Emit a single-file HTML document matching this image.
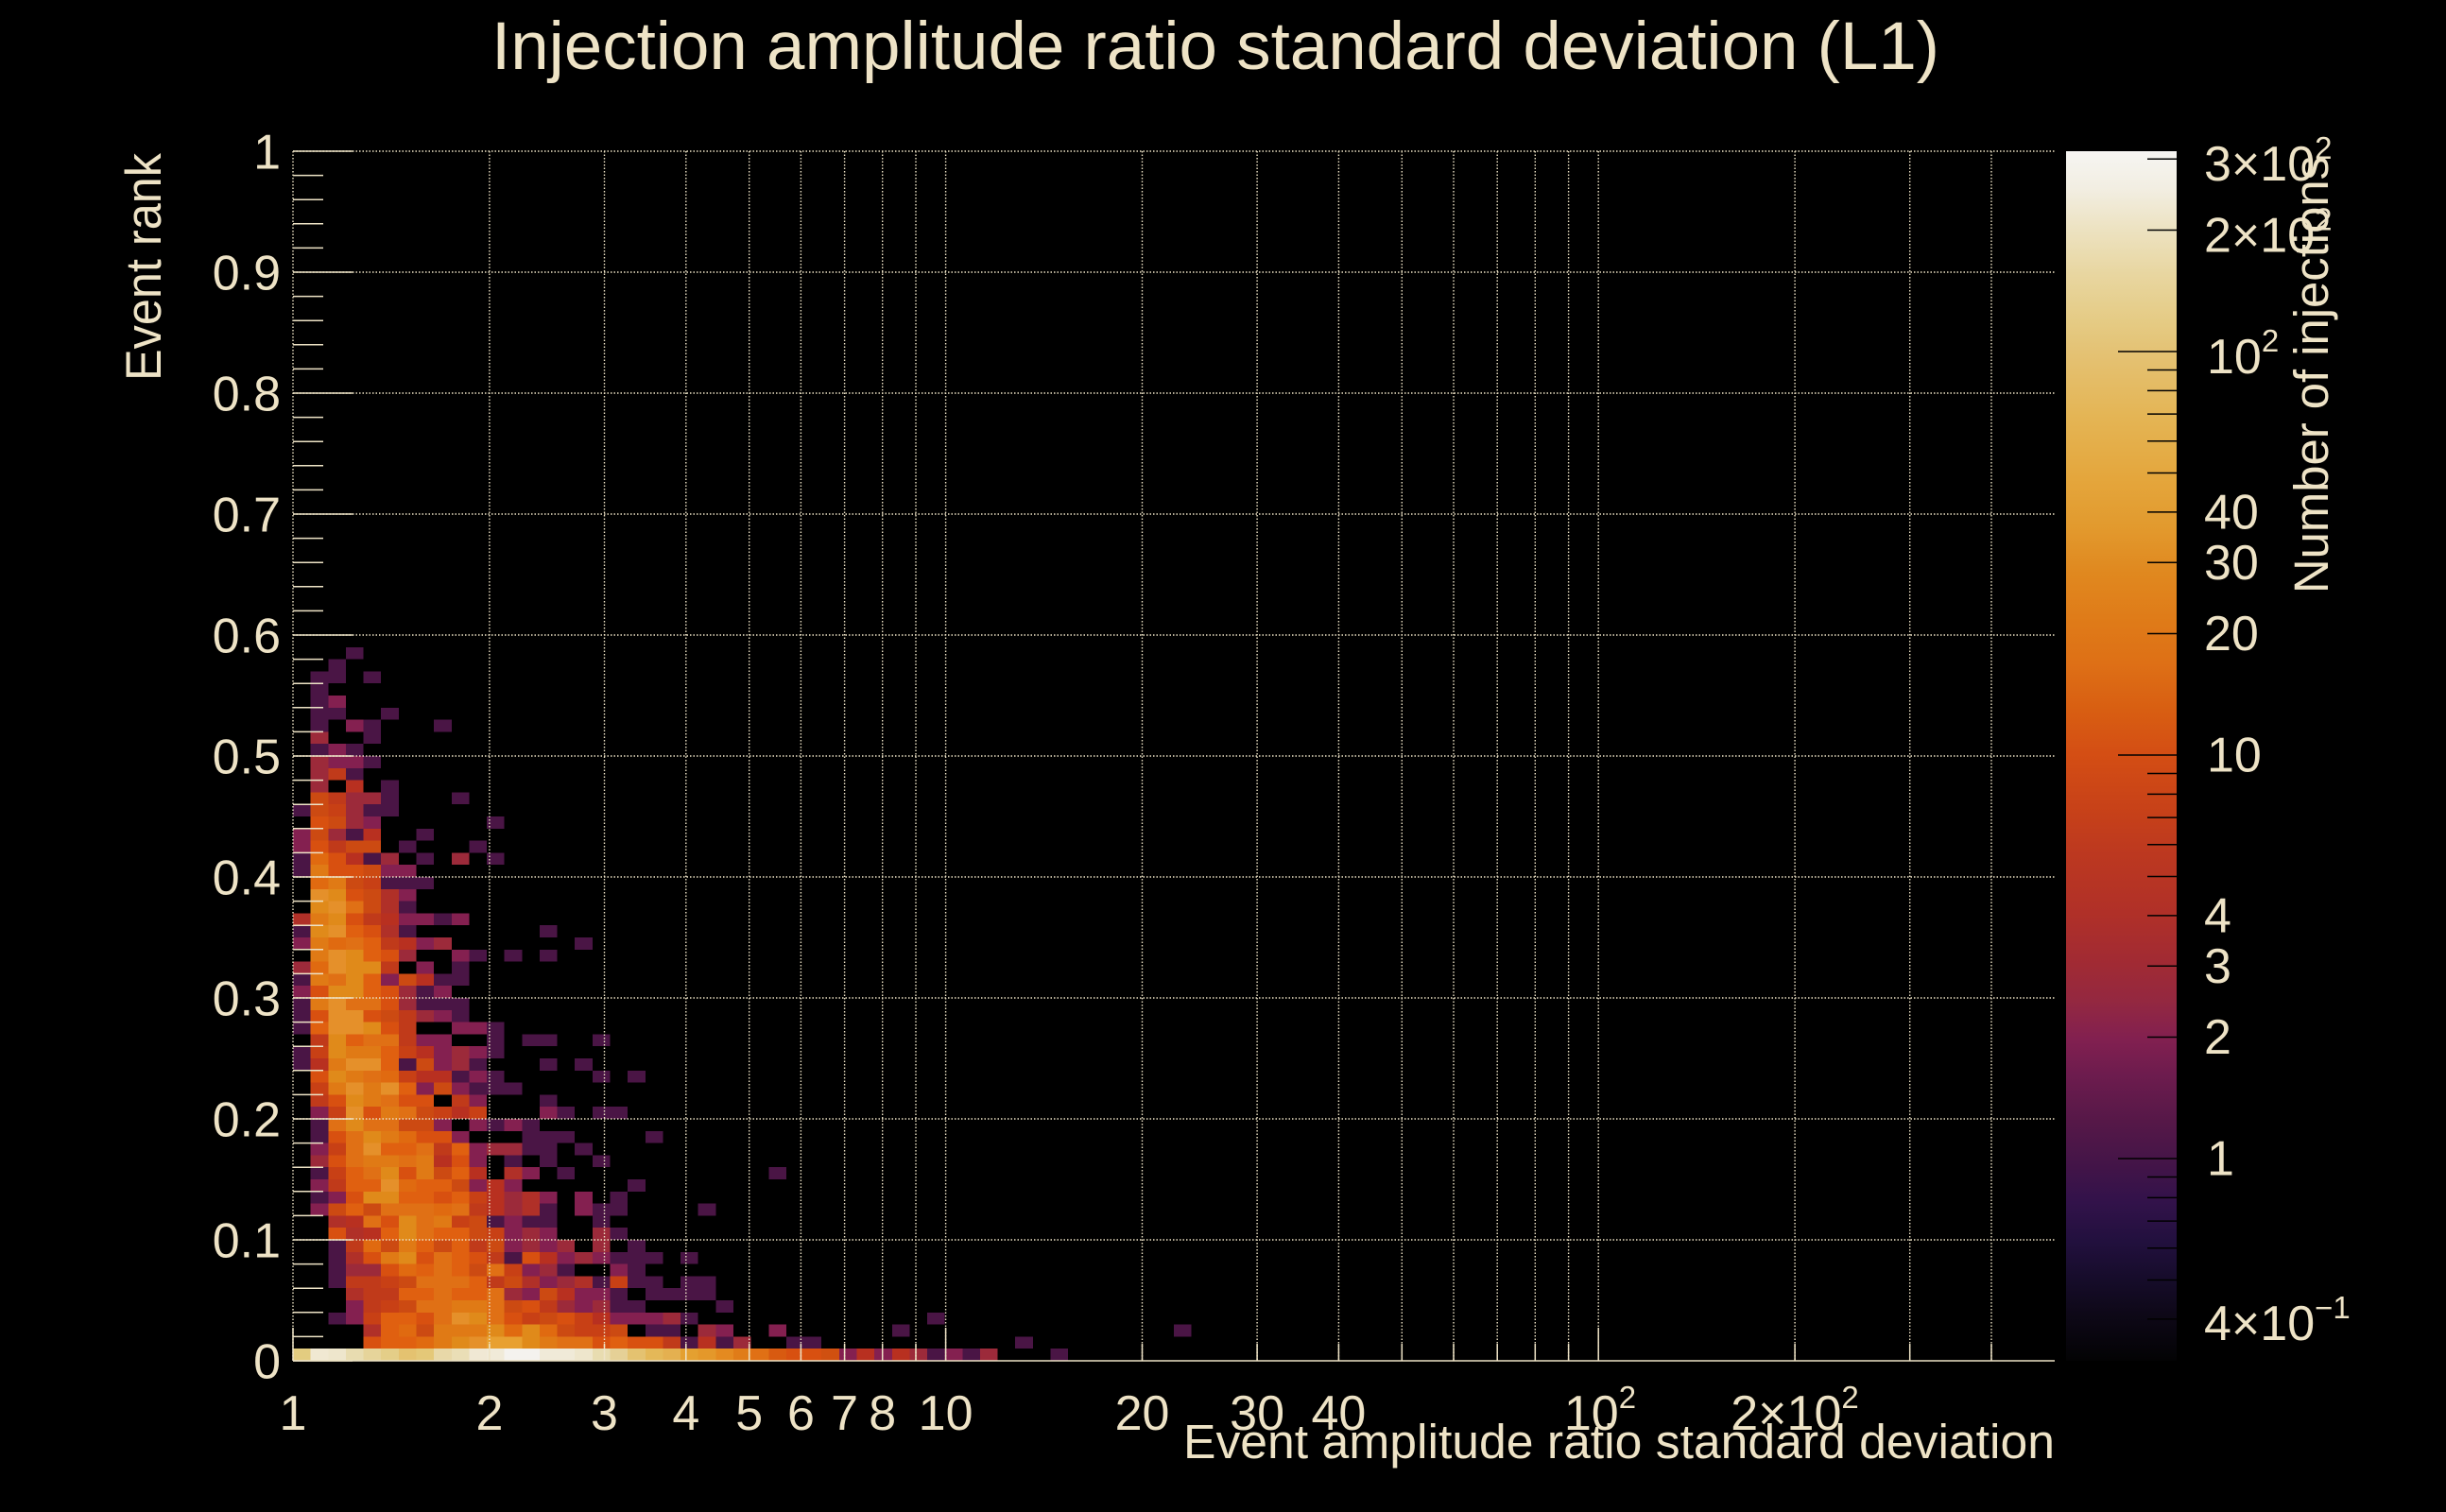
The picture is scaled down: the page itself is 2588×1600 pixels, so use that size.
<!DOCTYPE html>
<html><head><meta charset="utf-8">
<style>
html,body{margin:0;padding:0;background:#000;}
svg{display:block}
text{font-family:"Liberation Sans",Arial,sans-serif;fill:#eee3c6}
.c1{fill:#4a1545}.c2{fill:#842050}.c3{fill:#9c2a3a}.c4{fill:#b03028}.c5{fill:#b83020}.c6{fill:#c03a1a}.c7{fill:#c84015}.c8{fill:#cc4a12}.c9{fill:#d85010}.ca{fill:#e06010}.cb{fill:#e06a10}.cc{fill:#e07015}.cd{fill:#e07a15}.ce{fill:#e08a1a}.cf{fill:#e5902a}.cg{fill:#e8a030}
</style></head><body>
<svg width="2588" height="1600" viewBox="0 0 2588 1600">
<defs>
<rect id="u" width="1" height="1"/>
<linearGradient id="pal" x1="0" y1="0" x2="0" y2="1">
<stop offset="0" stop-color="#f6f5f2"/>
<stop offset="0.031" stop-color="#f2eee2"/>
<stop offset="0.0625" stop-color="#ede3c3"/>
<stop offset="0.102" stop-color="#e8d6a0"/>
<stop offset="0.141" stop-color="#e5cb84"/>
<stop offset="0.166" stop-color="#e4c274"/>
<stop offset="0.219" stop-color="#e4b555"/>
<stop offset="0.271" stop-color="#e4a63c"/>
<stop offset="0.310" stop-color="#e29a2e"/>
<stop offset="0.349" stop-color="#e0881f"/>
<stop offset="0.391" stop-color="#df7a18"/>
<stop offset="0.423" stop-color="#de7016"/>
<stop offset="0.4625" stop-color="#d85e12"/>
<stop offset="0.498" stop-color="#d44e14"/>
<stop offset="0.542" stop-color="#c84218"/>
<stop offset="0.582" stop-color="#bc3820"/>
<stop offset="0.630" stop-color="#b03028"/>
<stop offset="0.673" stop-color="#a02a34"/>
<stop offset="0.702" stop-color="#942840"/>
<stop offset="0.734" stop-color="#822050"/>
<stop offset="0.762" stop-color="#6e1c4e"/>
<stop offset="0.802" stop-color="#561848"/>
<stop offset="0.833" stop-color="#461548"/>
<stop offset="0.869" stop-color="#32124a"/>
<stop offset="0.901" stop-color="#22103e"/>
<stop offset="0.933" stop-color="#160c2a"/>
<stop offset="0.961" stop-color="#0e0818"/>
<stop offset="1" stop-color="#030304"/>
</linearGradient>
</defs>
<rect x="0" y="0" width="2588" height="1600" fill="#000"/>

<!-- heatmap -->
<g transform="translate(310 1440) scale(18.64 -12.8)" shape-rendering="crispEdges">
<g transform="translate(0 58)"><use href="#u" x="3" class="c1"/></g>
<g transform="translate(0 57)"><use href="#u" x="2" class="c1"/></g>
<g transform="translate(0 56)"><use href="#u" x="1" class="c1"/><use href="#u" x="2" class="c1"/><use href="#u" x="4" class="c1"/></g>
<g transform="translate(0 55)"><use href="#u" x="1" class="c1"/></g>
<g transform="translate(0 54)"><use href="#u" x="1" class="c1"/><use href="#u" x="2" class="c2"/></g>
<g transform="translate(0 53)"><use href="#u" x="1" class="c1"/><use href="#u" x="2" class="c1"/><use href="#u" x="5" class="c1"/></g>
<g transform="translate(0 52)"><use href="#u" x="1" class="c1"/><use href="#u" x="3" class="c2"/><use href="#u" x="4" class="c1"/><use href="#u" x="8" class="c1"/></g>
<g transform="translate(0 51)"><use href="#u" x="1" class="c3"/><use href="#u" x="4" class="c1"/></g>
<g transform="translate(0 50)"><use href="#u" x="1" class="c1"/><use href="#u" x="2" class="c2"/><use href="#u" x="3" class="c1"/></g>
<g transform="translate(0 49)"><use href="#u" x="1" class="c3"/><use href="#u" x="2" class="c2"/><use href="#u" x="3" class="c2"/><use href="#u" x="4" class="c1"/></g>
<g transform="translate(0 48)"><use href="#u" x="1" class="c3"/><use href="#u" x="2" class="c6"/><use href="#u" x="3" class="c1"/></g>
<g transform="translate(0 47)"><use href="#u" x="1" class="c3"/><use href="#u" x="3" class="c5"/><use href="#u" x="5" class="c1"/></g>
<g transform="translate(0 46)"><use href="#u" x="1" class="c8"/><use href="#u" x="2" class="c6"/><use href="#u" x="3" class="c3"/><use href="#u" x="4" class="c3"/><use href="#u" x="5" class="c1"/><use href="#u" x="9" class="c1"/></g>
<g transform="translate(0 45)"><use href="#u" x="0" class="c1"/><use href="#u" x="1" class="c8"/><use href="#u" x="2" class="c7"/><use href="#u" x="3" class="c3"/><use href="#u" x="4" class="c1"/><use href="#u" x="5" class="c1"/></g>
<g transform="translate(0 44)"><use href="#u" x="1" class="c9"/><use href="#u" x="2" class="c8"/><use href="#u" x="3" class="c3"/><use href="#u" x="4" class="c2"/><use href="#u" x="11" class="c1"/></g>
<g transform="translate(0 43)"><use href="#u" x="0" class="c2"/><use href="#u" x="1" class="c8"/><use href="#u" x="2" class="c3"/><use href="#u" x="3" class="c1"/><use href="#u" x="4" class="c5"/><use href="#u" x="7" class="c1"/></g>
<g transform="translate(0 42)"><use href="#u" x="0" class="c2"/><use href="#u" x="1" class="c9"/><use href="#u" x="2" class="c6"/><use href="#u" x="3" class="c8"/><use href="#u" x="4" class="c8"/><use href="#u" x="6" class="c1"/><use href="#u" x="10" class="c1"/></g>
<g transform="translate(0 41)"><use href="#u" x="0" class="c1"/><use href="#u" x="1" class="cb"/><use href="#u" x="2" class="c9"/><use href="#u" x="3" class="c5"/><use href="#u" x="4" class="c1"/><use href="#u" x="5" class="c3"/><use href="#u" x="7" class="c1"/><use href="#u" x="9" class="c3"/><use href="#u" x="11" class="c1"/></g>
<g transform="translate(0 40)"><use href="#u" x="0" class="c1"/><use href="#u" x="1" class="cd"/><use href="#u" x="2" class="c9"/><use href="#u" x="3" class="c9"/><use href="#u" x="4" class="c8"/><use href="#u" x="5" class="c2"/><use href="#u" x="6" class="c2"/></g>
<g transform="translate(0 39)"><use href="#u" x="1" class="cb"/><use href="#u" x="2" class="cd"/><use href="#u" x="3" class="c8"/><use href="#u" x="4" class="c7"/><use href="#u" x="5" class="c1"/><use href="#u" x="6" class="c1"/><use href="#u" x="7" class="c1"/></g>
<g transform="translate(0 38)"><use href="#u" x="1" class="cf"/><use href="#u" x="2" class="ce"/><use href="#u" x="3" class="c9"/><use href="#u" x="4" class="c8"/><use href="#u" x="5" class="c4"/><use href="#u" x="6" class="c2"/></g>
<g transform="translate(0 37)"><use href="#u" x="1" class="ce"/><use href="#u" x="2" class="cf"/><use href="#u" x="3" class="cc"/><use href="#u" x="4" class="c8"/><use href="#u" x="5" class="c4"/><use href="#u" x="6" class="c1"/></g>
<g transform="translate(0 36)"><use href="#u" x="0" class="c4"/><use href="#u" x="1" class="cd"/><use href="#u" x="2" class="ce"/><use href="#u" x="3" class="c9"/><use href="#u" x="4" class="c6"/><use href="#u" x="5" class="c5"/><use href="#u" x="6" class="c2"/><use href="#u" x="7" class="c2"/><use href="#u" x="8" class="c1"/><use href="#u" x="9" class="c2"/></g>
<g transform="translate(0 35)"><use href="#u" x="0" class="c1"/><use href="#u" x="1" class="ce"/><use href="#u" x="2" class="cf"/><use href="#u" x="3" class="ca"/><use href="#u" x="4" class="c9"/><use href="#u" x="5" class="c4"/><use href="#u" x="6" class="c1"/><use href="#u" x="14" class="c1"/></g>
<g transform="translate(0 34)"><use href="#u" x="0" class="c2"/><use href="#u" x="1" class="cd"/><use href="#u" x="2" class="cb"/><use href="#u" x="3" class="cc"/><use href="#u" x="4" class="ca"/><use href="#u" x="5" class="c6"/><use href="#u" x="6" class="c5"/><use href="#u" x="7" class="c2"/><use href="#u" x="8" class="c3"/><use href="#u" x="16" class="c1"/></g>
<g transform="translate(0 33)"><use href="#u" x="1" class="cd"/><use href="#u" x="2" class="cf"/><use href="#u" x="3" class="ce"/><use href="#u" x="4" class="ca"/><use href="#u" x="5" class="c9"/><use href="#u" x="6" class="c3"/><use href="#u" x="9" class="c2"/><use href="#u" x="10" class="c1"/><use href="#u" x="12" class="c1"/><use href="#u" x="14" class="c1"/></g>
<g transform="translate(0 32)"><use href="#u" x="0" class="c3"/><use href="#u" x="1" class="cb"/><use href="#u" x="2" class="cf"/><use href="#u" x="3" class="ce"/><use href="#u" x="4" class="ce"/><use href="#u" x="5" class="c6"/><use href="#u" x="7" class="c2"/><use href="#u" x="9" class="c1"/></g>
<g transform="translate(0 31)"><use href="#u" x="0" class="c1"/><use href="#u" x="1" class="cd"/><use href="#u" x="2" class="cc"/><use href="#u" x="3" class="ce"/><use href="#u" x="4" class="ca"/><use href="#u" x="5" class="c2"/><use href="#u" x="6" class="c8"/><use href="#u" x="7" class="c5"/><use href="#u" x="8" class="c1"/><use href="#u" x="9" class="c1"/></g>
<g transform="translate(0 30)"><use href="#u" x="0" class="c2"/><use href="#u" x="1" class="c9"/><use href="#u" x="2" class="ce"/><use href="#u" x="3" class="ce"/><use href="#u" x="4" class="ca"/><use href="#u" x="5" class="c9"/><use href="#u" x="6" class="c3"/><use href="#u" x="7" class="c1"/><use href="#u" x="8" class="c2"/></g>
<g transform="translate(0 29)"><use href="#u" x="0" class="c1"/><use href="#u" x="1" class="cd"/><use href="#u" x="2" class="cf"/><use href="#u" x="3" class="cc"/><use href="#u" x="4" class="cc"/><use href="#u" x="5" class="c9"/><use href="#u" x="6" class="c3"/><use href="#u" x="7" class="c1"/><use href="#u" x="8" class="c1"/><use href="#u" x="9" class="c1"/></g>
<g transform="translate(0 28)"><use href="#u" x="0" class="c1"/><use href="#u" x="1" class="c9"/><use href="#u" x="2" class="cf"/><use href="#u" x="3" class="cf"/><use href="#u" x="4" class="c9"/><use href="#u" x="5" class="c8"/><use href="#u" x="6" class="c6"/><use href="#u" x="7" class="c3"/><use href="#u" x="8" class="c2"/><use href="#u" x="9" class="c1"/></g>
<g transform="translate(0 27)"><use href="#u" x="0" class="c1"/><use href="#u" x="1" class="ca"/><use href="#u" x="2" class="cf"/><use href="#u" x="3" class="cf"/><use href="#u" x="4" class="ce"/><use href="#u" x="5" class="c9"/><use href="#u" x="6" class="c6"/><use href="#u" x="9" class="c2"/><use href="#u" x="10" class="c2"/><use href="#u" x="11" class="c1"/></g>
<g transform="translate(0 26)"><use href="#u" x="1" class="c6"/><use href="#u" x="2" class="ce"/><use href="#u" x="3" class="ca"/><use href="#u" x="4" class="cc"/><use href="#u" x="5" class="cc"/><use href="#u" x="6" class="c6"/><use href="#u" x="7" class="c2"/><use href="#u" x="8" class="c2"/><use href="#u" x="11" class="c1"/><use href="#u" x="13" class="c1"/><use href="#u" x="14" class="c1"/><use href="#u" x="17" class="c1"/></g>
<g transform="translate(0 25)"><use href="#u" x="0" class="c1"/><use href="#u" x="1" class="c7"/><use href="#u" x="2" class="ce"/><use href="#u" x="3" class="cd"/><use href="#u" x="4" class="cd"/><use href="#u" x="5" class="ca"/><use href="#u" x="6" class="c7"/><use href="#u" x="7" class="c5"/><use href="#u" x="8" class="c2"/><use href="#u" x="9" class="c3"/><use href="#u" x="10" class="c2"/><use href="#u" x="11" class="c1"/></g>
<g transform="translate(0 24)"><use href="#u" x="0" class="c1"/><use href="#u" x="1" class="c5"/><use href="#u" x="2" class="cd"/><use href="#u" x="3" class="cf"/><use href="#u" x="4" class="cf"/><use href="#u" x="5" class="ca"/><use href="#u" x="6" class="c1"/><use href="#u" x="7" class="c8"/><use href="#u" x="8" class="c2"/><use href="#u" x="9" class="c3"/><use href="#u" x="10" class="c1"/><use href="#u" x="14" class="c1"/><use href="#u" x="16" class="c1"/></g>
<g transform="translate(0 23)"><use href="#u" x="1" class="c9"/><use href="#u" x="2" class="ce"/><use href="#u" x="3" class="cd"/><use href="#u" x="4" class="cc"/><use href="#u" x="5" class="cb"/><use href="#u" x="6" class="c7"/><use href="#u" x="7" class="c5"/><use href="#u" x="8" class="c5"/><use href="#u" x="9" class="c1"/><use href="#u" x="10" class="c2"/><use href="#u" x="11" class="c1"/><use href="#u" x="17" class="c1"/><use href="#u" x="19" class="c1"/></g>
<g transform="translate(0 22)"><use href="#u" x="1" class="c7"/><use href="#u" x="2" class="cd"/><use href="#u" x="3" class="cf"/><use href="#u" x="4" class="cd"/><use href="#u" x="5" class="cf"/><use href="#u" x="6" class="ca"/><use href="#u" x="7" class="c2"/><use href="#u" x="8" class="c8"/><use href="#u" x="9" class="c2"/><use href="#u" x="10" class="c1"/><use href="#u" x="11" class="c1"/><use href="#u" x="12" class="c1"/></g>
<g transform="translate(0 21)"><use href="#u" x="1" class="c6"/><use href="#u" x="2" class="c9"/><use href="#u" x="3" class="ce"/><use href="#u" x="4" class="cd"/><use href="#u" x="5" class="cc"/><use href="#u" x="6" class="c9"/><use href="#u" x="7" class="c9"/><use href="#u" x="9" class="c6"/><use href="#u" x="10" class="c2"/><use href="#u" x="14" class="c1"/></g>
<g transform="translate(0 20)"><use href="#u" x="1" class="c2"/><use href="#u" x="2" class="c7"/><use href="#u" x="3" class="cf"/><use href="#u" x="4" class="c9"/><use href="#u" x="5" class="cd"/><use href="#u" x="6" class="cc"/><use href="#u" x="7" class="c8"/><use href="#u" x="8" class="c7"/><use href="#u" x="9" class="c5"/><use href="#u" x="10" class="c7"/><use href="#u" x="14" class="c2"/><use href="#u" x="15" class="c1"/><use href="#u" x="17" class="c1"/><use href="#u" x="18" class="c1"/></g>
<g transform="translate(0 19)"><use href="#u" x="1" class="c1"/><use href="#u" x="2" class="cc"/><use href="#u" x="3" class="ce"/><use href="#u" x="4" class="cc"/><use href="#u" x="5" class="cc"/><use href="#u" x="6" class="c8"/><use href="#u" x="7" class="c8"/><use href="#u" x="8" class="c2"/><use href="#u" x="10" class="c2"/><use href="#u" x="11" class="c1"/><use href="#u" x="12" class="c2"/><use href="#u" x="13" class="c1"/></g>
<g transform="translate(0 18)"><use href="#u" x="1" class="c1"/><use href="#u" x="2" class="c9"/><use href="#u" x="3" class="cc"/><use href="#u" x="4" class="ce"/><use href="#u" x="5" class="cd"/><use href="#u" x="6" class="cb"/><use href="#u" x="7" class="c9"/><use href="#u" x="8" class="c9"/><use href="#u" x="9" class="c2"/><use href="#u" x="13" class="c1"/><use href="#u" x="14" class="c1"/><use href="#u" x="15" class="c1"/><use href="#u" x="20" class="c1"/></g>
<g transform="translate(0 17)"><use href="#u" x="1" class="c2"/><use href="#u" x="2" class="c7"/><use href="#u" x="3" class="cc"/><use href="#u" x="4" class="cf"/><use href="#u" x="5" class="ca"/><use href="#u" x="6" class="ca"/><use href="#u" x="7" class="cc"/><use href="#u" x="8" class="c6"/><use href="#u" x="9" class="ca"/><use href="#u" x="10" class="c2"/><use href="#u" x="11" class="c3"/><use href="#u" x="12" class="c3"/><use href="#u" x="13" class="c1"/><use href="#u" x="14" class="c1"/><use href="#u" x="16" class="c1"/></g>
<g transform="translate(0 16)"><use href="#u" x="1" class="c3"/><use href="#u" x="2" class="c9"/><use href="#u" x="3" class="cc"/><use href="#u" x="4" class="cd"/><use href="#u" x="5" class="cd"/><use href="#u" x="6" class="cc"/><use href="#u" x="7" class="cd"/><use href="#u" x="8" class="c5"/><use href="#u" x="9" class="c9"/><use href="#u" x="10" class="c2"/><use href="#u" x="12" class="c1"/><use href="#u" x="14" class="c1"/><use href="#u" x="17" class="c1"/></g>
<g transform="translate(0 15)"><use href="#u" x="1" class="c1"/><use href="#u" x="2" class="c7"/><use href="#u" x="3" class="ca"/><use href="#u" x="4" class="cc"/><use href="#u" x="5" class="ce"/><use href="#u" x="6" class="c9"/><use href="#u" x="7" class="cd"/><use href="#u" x="8" class="c8"/><use href="#u" x="9" class="ca"/><use href="#u" x="10" class="c5"/><use href="#u" x="12" class="c4"/><use href="#u" x="13" class="c2"/><use href="#u" x="15" class="c1"/><use href="#u" x="27" class="c1"/></g>
<g transform="translate(0 14)"><use href="#u" x="1" class="c2"/><use href="#u" x="2" class="c6"/><use href="#u" x="3" class="ca"/><use href="#u" x="4" class="ca"/><use href="#u" x="5" class="cf"/><use href="#u" x="6" class="cb"/><use href="#u" x="7" class="ca"/><use href="#u" x="8" class="ca"/><use href="#u" x="9" class="c8"/><use href="#u" x="10" class="c2"/><use href="#u" x="11" class="c5"/><use href="#u" x="12" class="c2"/><use href="#u" x="19" class="c1"/></g>
<g transform="translate(0 13)"><use href="#u" x="1" class="c1"/><use href="#u" x="2" class="c2"/><use href="#u" x="3" class="c9"/><use href="#u" x="4" class="ce"/><use href="#u" x="5" class="ce"/><use href="#u" x="6" class="ca"/><use href="#u" x="7" class="ca"/><use href="#u" x="8" class="c9"/><use href="#u" x="9" class="ca"/><use href="#u" x="10" class="c7"/><use href="#u" x="11" class="c5"/><use href="#u" x="12" class="c3"/><use href="#u" x="13" class="c4"/><use href="#u" x="14" class="c2"/><use href="#u" x="16" class="c2"/><use href="#u" x="18" class="c1"/></g>
<g transform="translate(0 12)"><use href="#u" x="1" class="c2"/><use href="#u" x="2" class="c8"/><use href="#u" x="3" class="ca"/><use href="#u" x="4" class="c8"/><use href="#u" x="5" class="cc"/><use href="#u" x="6" class="cc"/><use href="#u" x="7" class="cc"/><use href="#u" x="8" class="cb"/><use href="#u" x="9" class="cc"/><use href="#u" x="10" class="c6"/><use href="#u" x="11" class="c5"/><use href="#u" x="12" class="c3"/><use href="#u" x="13" class="c4"/><use href="#u" x="14" class="c1"/><use href="#u" x="16" class="c2"/><use href="#u" x="17" class="c1"/><use href="#u" x="18" class="c1"/><use href="#u" x="23" class="c1"/></g>
<g transform="translate(0 11)"><use href="#u" x="2" class="c4"/><use href="#u" x="3" class="c5"/><use href="#u" x="4" class="cc"/><use href="#u" x="5" class="c9"/><use href="#u" x="6" class="ce"/><use href="#u" x="7" class="cc"/><use href="#u" x="8" class="cd"/><use href="#u" x="9" class="c7"/><use href="#u" x="10" class="c8"/><use href="#u" x="11" class="c1"/><use href="#u" x="12" class="c2"/><use href="#u" x="13" class="c1"/><use href="#u" x="14" class="c1"/><use href="#u" x="17" class="c1"/></g>
<g transform="translate(0 10)"><use href="#u" x="2" class="c9"/><use href="#u" x="3" class="c4"/><use href="#u" x="4" class="c5"/><use href="#u" x="5" class="ca"/><use href="#u" x="6" class="ce"/><use href="#u" x="7" class="cc"/><use href="#u" x="8" class="ca"/><use href="#u" x="9" class="ca"/><use href="#u" x="10" class="c8"/><use href="#u" x="11" class="c7"/><use href="#u" x="12" class="c2"/><use href="#u" x="13" class="c3"/><use href="#u" x="14" class="c2"/><use href="#u" x="17" class="c3"/><use href="#u" x="18" class="c1"/></g>
<g transform="translate(0 9)"><use href="#u" x="2" class="c1"/><use href="#u" x="3" class="c6"/><use href="#u" x="4" class="cb"/><use href="#u" x="5" class="c8"/><use href="#u" x="6" class="cd"/><use href="#u" x="7" class="ca"/><use href="#u" x="8" class="c8"/><use href="#u" x="9" class="ca"/><use href="#u" x="10" class="c6"/><use href="#u" x="11" class="c8"/><use href="#u" x="12" class="c2"/><use href="#u" x="13" class="c3"/><use href="#u" x="14" class="c2"/><use href="#u" x="15" class="c3"/><use href="#u" x="17" class="c3"/><use href="#u" x="19" class="c1"/></g>
<g transform="translate(0 8)"><use href="#u" x="2" class="c1"/><use href="#u" x="3" class="c4"/><use href="#u" x="4" class="c9"/><use href="#u" x="5" class="cd"/><use href="#u" x="6" class="ce"/><use href="#u" x="7" class="c9"/><use href="#u" x="8" class="cc"/><use href="#u" x="9" class="ca"/><use href="#u" x="10" class="c9"/><use href="#u" x="11" class="c6"/><use href="#u" x="12" class="c1"/><use href="#u" x="13" class="c9"/><use href="#u" x="14" class="c5"/><use href="#u" x="15" class="c2"/><use href="#u" x="16" class="c3"/><use href="#u" x="17" class="c2"/><use href="#u" x="18" class="c1"/><use href="#u" x="19" class="c1"/><use href="#u" x="20" class="c1"/><use href="#u" x="22" class="c1"/></g>
<g transform="translate(0 7)"><use href="#u" x="2" class="c1"/><use href="#u" x="3" class="c3"/><use href="#u" x="4" class="c3"/><use href="#u" x="5" class="c9"/><use href="#u" x="6" class="cb"/><use href="#u" x="7" class="ca"/><use href="#u" x="8" class="cc"/><use href="#u" x="9" class="ca"/><use href="#u" x="10" class="c8"/><use href="#u" x="11" class="cc"/><use href="#u" x="12" class="c7"/><use href="#u" x="13" class="c2"/><use href="#u" x="14" class="c3"/><use href="#u" x="15" class="c1"/><use href="#u" x="18" class="c2"/><use href="#u" x="19" class="c1"/></g>
<g transform="translate(0 6)"><use href="#u" x="2" class="c1"/><use href="#u" x="3" class="c6"/><use href="#u" x="4" class="c6"/><use href="#u" x="5" class="c7"/><use href="#u" x="6" class="c8"/><use href="#u" x="7" class="cc"/><use href="#u" x="8" class="cc"/><use href="#u" x="9" class="cc"/><use href="#u" x="10" class="ca"/><use href="#u" x="11" class="c6"/><use href="#u" x="12" class="c8"/><use href="#u" x="13" class="c4"/><use href="#u" x="14" class="c2"/><use href="#u" x="15" class="c3"/><use href="#u" x="16" class="c4"/><use href="#u" x="17" class="c1"/><use href="#u" x="18" class="c7"/><use href="#u" x="19" class="c1"/><use href="#u" x="20" class="c1"/><use href="#u" x="22" class="c1"/><use href="#u" x="23" class="c1"/></g>
<g transform="translate(0 5)"><use href="#u" x="3" class="c4"/><use href="#u" x="4" class="c6"/><use href="#u" x="5" class="c6"/><use href="#u" x="6" class="ca"/><use href="#u" x="7" class="ca"/><use href="#u" x="8" class="cc"/><use href="#u" x="9" class="ca"/><use href="#u" x="10" class="ca"/><use href="#u" x="11" class="cc"/><use href="#u" x="12" class="c3"/><use href="#u" x="13" class="c2"/><use href="#u" x="14" class="c8"/><use href="#u" x="15" class="c5"/><use href="#u" x="16" class="c2"/><use href="#u" x="17" class="c2"/><use href="#u" x="18" class="c1"/><use href="#u" x="20" class="c1"/><use href="#u" x="21" class="c1"/><use href="#u" x="22" class="c1"/><use href="#u" x="23" class="c1"/></g>
<g transform="translate(0 4)"><use href="#u" x="3" class="c2"/><use href="#u" x="4" class="c6"/><use href="#u" x="5" class="c7"/><use href="#u" x="6" class="c8"/><use href="#u" x="7" class="cc"/><use href="#u" x="8" class="cc"/><use href="#u" x="9" class="cd"/><use href="#u" x="10" class="cd"/><use href="#u" x="11" class="cc"/><use href="#u" x="12" class="c8"/><use href="#u" x="13" class="c9"/><use href="#u" x="14" class="c6"/><use href="#u" x="15" class="c3"/><use href="#u" x="16" class="c2"/><use href="#u" x="17" class="c3"/><use href="#u" x="18" class="c1"/><use href="#u" x="19" class="c1"/><use href="#u" x="24" class="c1"/></g>
<g transform="translate(0 3)"><use href="#u" x="2" class="c1"/><use href="#u" x="3" class="c2"/><use href="#u" x="4" class="c7"/><use href="#u" x="5" class="ca"/><use href="#u" x="6" class="ca"/><use href="#u" x="7" class="c9"/><use href="#u" x="8" class="cc"/><use href="#u" x="9" class="cf"/><use href="#u" x="10" class="ce"/><use href="#u" x="11" class="cc"/><use href="#u" x="12" class="c9"/><use href="#u" x="13" class="c7"/><use href="#u" x="14" class="c8"/><use href="#u" x="15" class="c9"/><use href="#u" x="16" class="c7"/><use href="#u" x="17" class="c5"/><use href="#u" x="18" class="c2"/><use href="#u" x="19" class="c2"/><use href="#u" x="20" class="c2"/><use href="#u" x="21" class="c3"/><use href="#u" x="22" class="c1"/><use href="#u" x="36" class="c1"/></g>
<g transform="translate(0 2)"><use href="#u" x="4" class="c4"/><use href="#u" x="5" class="ca"/><use href="#u" x="6" class="cb"/><use href="#u" x="7" class="c8"/><use href="#u" x="8" class="cd"/><use href="#u" x="9" class="cd"/><use href="#u" x="10" class="cd"/><use href="#u" x="11" class="ce"/><use href="#u" x="12" class="cb"/><use href="#u" x="13" class="ce"/><use href="#u" x="14" class="cb"/><use href="#u" x="15" class="c8"/><use href="#u" x="16" class="c7"/><use href="#u" x="17" class="c7"/><use href="#u" x="18" class="c8"/><use href="#u" x="20" class="c1"/><use href="#u" x="21" class="c1"/><use href="#u" x="23" class="c3"/><use href="#u" x="24" class="c2"/><use href="#u" x="27" class="c2"/><use href="#u" x="34" class="c1"/><use href="#u" x="50" class="c1"/></g>
<g transform="translate(0 1)"><use href="#u" x="4" class="c9"/><use href="#u" x="5" class="ca"/><use href="#u" x="6" class="ca"/><use href="#u" x="7" class="cb"/><use href="#u" x="8" class="cd"/><use href="#u" x="9" class="ce"/><use href="#u" x="10" class="cf"/><use href="#u" x="11" class="cg"/><use href="#u" x="12" class="cg"/><use href="#u" x="13" class="ce"/><use href="#u" x="14" class="cd"/><use href="#u" x="15" class="cc"/><use href="#u" x="16" class="cc"/><use href="#u" x="17" class="c9"/><use href="#u" x="18" class="ca"/><use href="#u" x="19" class="c9"/><use href="#u" x="20" class="c9"/><use href="#u" x="21" class="c6"/><use href="#u" x="22" class="c1"/><use href="#u" x="23" class="c5"/><use href="#u" x="24" class="c1"/><use href="#u" x="25" class="c3"/><use href="#u" x="28" class="c1"/><use href="#u" x="29" class="c1"/><use href="#u" x="41" class="c1"/></g>
<g>
<use href="#u" x="0" fill="#e3cc80"/><use href="#u" x="1" fill="#f0e8d2"/><use href="#u" x="2" fill="#eee6cc"/><use href="#u" x="3" fill="#e8dcb0"/><use href="#u" x="4" fill="#e6d49a"/><use href="#u" x="5" fill="#e4ce88"/><use href="#u" x="6" fill="#e4c270"/><use href="#u" x="7" fill="#e4c878"/><use href="#u" x="8" fill="#e8d8a8"/><use href="#u" x="9" fill="#eadeb6"/><use href="#u" x="10" fill="#f0e8d4"/><use href="#u" x="11" fill="#f0ead8"/><use href="#u" x="12" fill="#f4f2ee"/><use href="#u" x="13" fill="#f4f2ee"/><use href="#u" x="14" fill="#f0ead8"/><use href="#u" x="15" fill="#f0ead8"/><use href="#u" x="16" fill="#eee6cc"/><use href="#u" x="17" fill="#e8dcb0"/><use href="#u" x="18" fill="#e5d096"/><use href="#u" x="19" fill="#e4c270"/><use href="#u" x="20" fill="#e4b858"/><use href="#u" x="21" fill="#e4b050"/><use href="#u" x="22" fill="#e4a030"/><use href="#u" x="23" fill="#e4982a"/><use href="#u" x="24" fill="#e48a20"/><use href="#u" x="25" fill="#e07c18"/><use href="#u" x="26" fill="#e07015"/><use href="#u" x="27" fill="#d85a10"/><use href="#u" x="28" fill="#d85010"/><use href="#u" x="29" fill="#d85010"/><use href="#u" x="30" fill="#d05010"/><use href="#u" x="31" fill="#842050"/><use href="#u" x="32" fill="#b83020"/><use href="#u" x="33" fill="#842050"/><use href="#u" x="34" fill="#b83020"/><use href="#u" x="35" fill="#9c2a3a"/><use href="#u" x="36" fill="#4a1545"/><use href="#u" x="37" fill="#842050"/><use href="#u" x="38" fill="#4a1545"/><use href="#u" x="39" fill="#9c2a3a"/><use href="#u" x="43" fill="#4a1545"/>
</g>
</g>

<!-- grid -->
<g stroke="#eee3c6" stroke-width="1.4" stroke-dasharray="1.5 2" fill="none">
<path d="M310 1312H2174M310 1184H2174M310 1056H2174M310 928H2174M310 800H2174M310 672H2174M310 544H2174M310 416H2174M310 288H2174M310 160H2174"/>
<path d="M517.9 160V1440M639.5 160V1440M725.8 160V1440M792.7 160V1440M847.4 160V1440M893.6 160V1440M933.7 160V1440M969 160V1440M1000.6 160V1440M1208.5 160V1440M1330.1 160V1440M1416.4 160V1440M1483.3 160V1440M1538 160V1440M1584.2 160V1440M1624.3 160V1440M1659.6 160V1440M1691.2 160V1440M1899.1 160V1440M2020.7 160V1440M2107 160V1440M310 160V1440"/>
</g>

<!-- axes -->
<g stroke="#eee3c6" stroke-width="1.5" fill="none">
<path d="M310 1440H2174"/>
<path d="M310 1440h63M310 1312h63M310 1184h63M310 1056h63M310 928h63M310 800h63M310 672h63M310 544h63M310 416h63M310 288h63M310 160h63"/>
<path d="M310 1414.4h32M310 1388.8h32M310 1363.2h32M310 1337.6h32M310 1286.4h32M310 1260.8h32M310 1235.2h32M310 1209.6h32M310 1158.4h32M310 1132.8h32M310 1107.2h32M310 1081.6h32M310 1030.4h32M310 1004.8h32M310 979.2h32M310 953.6h32M310 902.4h32M310 876.8h32M310 851.2h32M310 825.6h32M310 774.4h32M310 748.8h32M310 723.2h32M310 697.6h32M310 646.4h32M310 620.8h32M310 595.2h32M310 569.6h32M310 518.4h32M310 492.8h32M310 467.2h32M310 441.6h32M310 390.4h32M310 364.8h32M310 339.2h32M310 313.6h32M310 262.4h32M310 236.8h32M310 211.2h32M310 185.6h32"/>
<path d="M310 1440v-35M1000.6 1440v-35M1691.2 1440v-35"/>
<path d="M517.9 1440v-18M639.5 1440v-18M725.8 1440v-18M792.7 1440v-18M847.4 1440v-18M893.6 1440v-18M933.7 1440v-18M969 1440v-18M1208.5 1440v-18M1330.1 1440v-18M1416.4 1440v-18M1483.3 1440v-18M1538 1440v-18M1584.2 1440v-18M1624.3 1440v-18M1659.6 1440v-18M1899.1 1440v-18M2020.7 1440v-18M2107 1440v-18"/>
</g>

<!-- colorbar -->
<rect x="2186" y="160" width="117" height="1280" fill="url(#pal)"/>
<g stroke="#000" stroke-width="1.5" fill="none">
<path d="M2303 372h-62M2303 799h-62M2303 1226h-62"/>
<path d="M2303 168.3h-31M2303 243.5h-31M2303 391.5h-31M2303 413.4h-31M2303 438.1h-31M2303 466.7h-31M2303 500.5h-31M2303 541.9h-31M2303 595.3h-31M2303 670.5h-31M2303 818.5h-31M2303 840.4h-31M2303 865.1h-31M2303 893.7h-31M2303 927.5h-31M2303 968.9h-31M2303 1022.3h-31M2303 1097.5h-31M2303 1245.5h-31M2303 1267.4h-31M2303 1292.1h-31M2303 1320.7h-31M2303 1354.5h-31M2303 1395.9h-31"/>
</g>

<!-- title -->
<text x="1286" y="73" font-size="71" text-anchor="middle" textLength="1532" lengthAdjust="spacingAndGlyphs">Injection amplitude ratio standard deviation (L1)</text>

<!-- y tick labels -->
<g font-size="52" text-anchor="end">
<text x="297" y="1458.5">0</text>
<text x="297" y="1330.5">0.1</text>
<text x="297" y="1202.5">0.2</text>
<text x="297" y="1074.5">0.3</text>
<text x="297" y="946.5">0.4</text>
<text x="297" y="818.5">0.5</text>
<text x="297" y="690.5">0.6</text>
<text x="297" y="562.5">0.7</text>
<text x="297" y="434.5">0.8</text>
<text x="297" y="306.5">0.9</text>
<text x="297" y="178.5">1</text>
</g>

<!-- x tick labels -->
<g font-size="52" text-anchor="middle">
<text x="310" y="1513">1</text>
<text x="517.9" y="1513">2</text>
<text x="639.5" y="1513">3</text>
<text x="725.8" y="1513">4</text>
<text x="792.7" y="1513">5</text>
<text x="847.4" y="1513">6</text>
<text x="893.6" y="1513">7</text>
<text x="933.7" y="1513">8</text>
<text x="1000.6" y="1513">10</text>
<text x="1208.5" y="1513">20</text>
<text x="1330.1" y="1513">30</text>
<text x="1416.4" y="1513">40</text>
<text x="1693" y="1513">10<tspan font-size="33" dy="-23">2</tspan></text>
<text x="1899" y="1513">2×10<tspan font-size="33" dy="-23">2</tspan></text>
</g>

<!-- axis titles -->
<text x="2174" y="1543" font-size="51" text-anchor="end" textLength="922" lengthAdjust="spacingAndGlyphs">Event amplitude ratio standard deviation</text>
<text transform="translate(170 162) rotate(-90)" font-size="53" text-anchor="end" textLength="241" lengthAdjust="spacingAndGlyphs">Event rank</text>

<!-- colorbar labels -->
<g font-size="52">
<text x="2332" y="191">3×10<tspan font-size="33" dy="-23">2</tspan></text>
<text x="2332" y="266.5">2×10<tspan font-size="33" dy="-23">2</tspan></text>
<text x="2335" y="395">10<tspan font-size="33" dy="-23">2</tspan></text>
<text x="2332" y="559.4">40</text>
<text x="2332" y="612.8">30</text>
<text x="2332" y="688">20</text>
<text x="2335" y="816.5">10</text>
<text x="2332" y="986.4">4</text>
<text x="2332" y="1039.8">3</text>
<text x="2332" y="1115">2</text>
<text x="2335" y="1243.5">1</text>
<text x="2332" y="1418">4×10<tspan font-size="33" dy="-23">−1</tspan></text>
</g>
<text transform="translate(2463 165) rotate(-90)" font-size="51" text-anchor="end" textLength="463" lengthAdjust="spacingAndGlyphs">Number of injections</text>
</svg>
</body></html>
